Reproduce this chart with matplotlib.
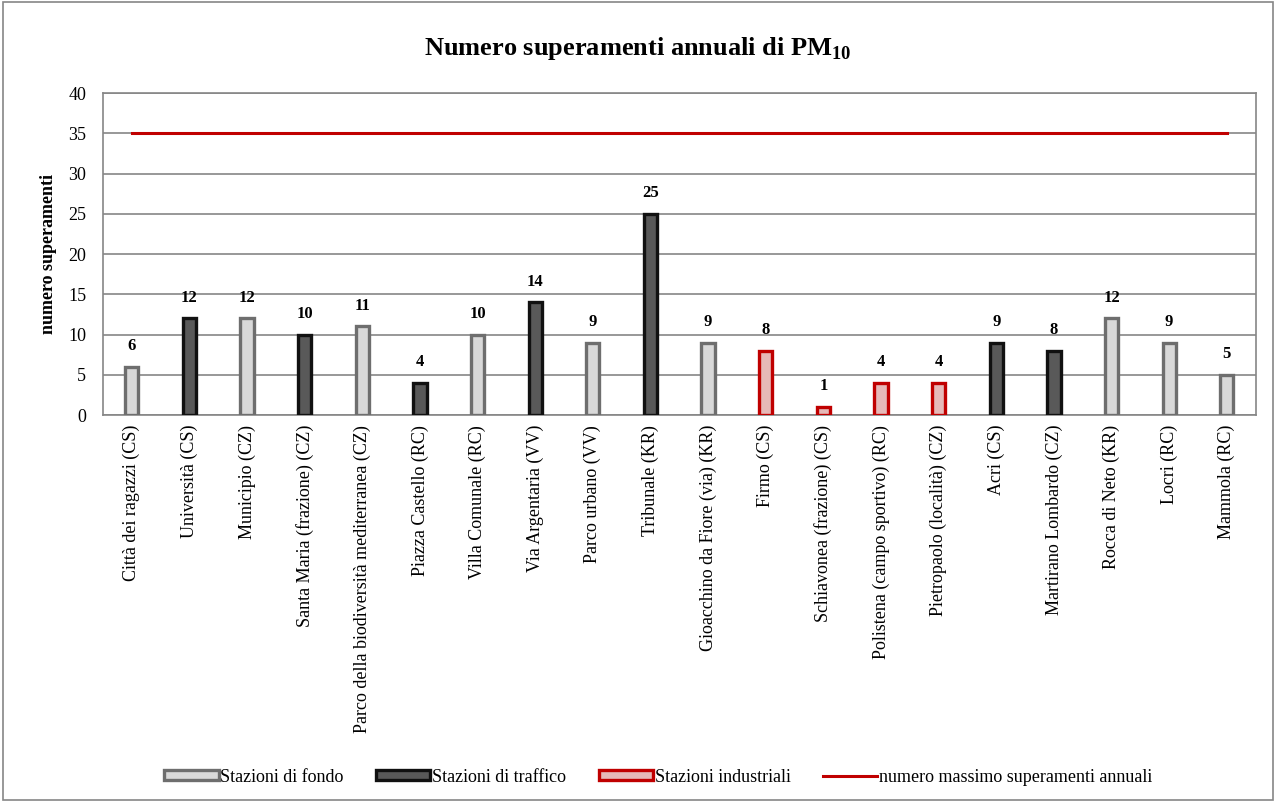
"""Numero superamenti annuali di PM10 per stazione."""

import matplotlib

matplotlib.use("Agg")
import matplotlib.pyplot as plt
import numpy as np
from matplotlib.lines import Line2D
from matplotlib.patches import Patch

plt.rcParams["font.family"] = ["Liberation Serif", "DejaVu Serif"]
plt.rcParams["mathtext.fontset"] = "custom"
plt.rcParams["mathtext.rm"] = "Liberation Serif"
plt.rcParams["mathtext.bf"] = "Liberation Serif:bold"

STATIONS = [
    "Città dei ragazzi (CS)",
    "Università (CS)",
    "Municipio (CZ)",
    "Santa Maria (frazione) (CZ)",
    "Parco della biodiversità mediterranea (CZ)",
    "Piazza Castello (RC)",
    "Villa Comunale (RC)",
    "Via Argentaria (VV)",
    "Parco urbano (VV)",
    "Tribunale (KR)",
    "Gioacchino da Fiore (via) (KR)",
    "Firmo (CS)",
    "Schiavonea (frazione) (CS)",
    "Polistena (campo sportivo) (RC)",
    "Pietropaolo (località) (CZ)",
    "Acri (CS)",
    "Martirano Lombardo (CZ)",
    "Rocca di Neto (KR)",
    "Locri (RC)",
    "Mammola (RC)",
]
EXCEEDANCES = [6, 12, 12, 10, 11, 4, 10, 14, 9, 25, 9, 8, 1, 4, 4, 9, 8, 12, 9, 5]
STATION_TYPE = [
    "fondo", "traffico", "fondo", "traffico", "fondo", "traffico", "fondo",
    "traffico", "fondo", "traffico", "fondo", "industriale", "industriale",
    "industriale", "industriale", "traffico", "traffico", "fondo", "fondo", "fondo",
]
LIMIT = 35

STYLES = {
    "fondo": ("#d9d9d9", "#6e6e6e", "Stazioni di fondo"),
    "traffico": ("#595959", "#111111", "Stazioni di traffico"),
    "industriale": ("#e6b9b8", "#c00000", "Stazioni industriali"),
}
LIMIT_LABEL = "numero massimo superamenti annuali"

fig = plt.figure(figsize=(12.76, 8.02), dpi=100)
ax = fig.add_axes([0.0807, 0.4825, 0.9033, 0.4015])

x = np.arange(len(STATIONS))
faces = [STYLES[t][0] for t in STATION_TYPE]
edges = [STYLES[t][1] for t in STATION_TYPE]
ax.bar(x, EXCEEDANCES, width=0.23, color=faces, edgecolor=edges, linewidth=2.4, zorder=3)

for xi, value in zip(x, EXCEEDANCES):
    ax.annotate(str(value), (xi, value), xytext=(0, 9), textcoords="offset points",
                ha="center", va="bottom", fontsize=12, fontweight="bold")

ax.plot(x, [LIMIT] * len(x), color="#c00000", linewidth=2.2, zorder=4)

ax.set_xlim(-0.5, len(STATIONS) - 0.5)
ax.set_ylim(0, 40)
ax.set_yticks(range(0, 41, 5))
ax.tick_params(axis="y", labelsize=13, length=0, pad=12)
ax.tick_params(axis="x", length=0, pad=7)
ax.set_xticks(x)
ax.set_xticklabels(STATIONS, rotation=90, fontsize=13, va="top")
ax.grid(axis="y", color="#868686", linewidth=1.2, zorder=0)
for spine in ax.spines.values():
    spine.set_color("#868686")
    spine.set_linewidth(1.2)
ax.set_ylabel("numero superamenti", fontsize=13, fontweight="bold", labelpad=8)

fig.text(0.5, 0.94, r"Numero superamenti annuali di PM$_{\mathbf{10}}$",
         ha="center", va="center", fontsize=19, fontweight="bold")

handles = [
    Patch(facecolor=STYLES[k][0], edgecolor=STYLES[k][1], linewidth=2.4, label=STYLES[k][2])
    for k in ("fondo", "traffico", "industriale")
]
handles.append(Line2D([0], [0], color="#c00000", linewidth=2.2, label=LIMIT_LABEL))
fig.legend(handles=handles, loc="center", bbox_to_anchor=(0.516, 0.031), ncol=4,
           frameon=False, fontsize=13, handlelength=3.0, handleheight=0.5,
           handletextpad=0.1, columnspacing=1.8)

fig.add_artist(plt.Rectangle((0.002, 0.002), 0.996, 0.996, transform=fig.transFigure,
                             fill=False, edgecolor="#868686", linewidth=1.2))

fig.savefig("out.png", dpi=100)
